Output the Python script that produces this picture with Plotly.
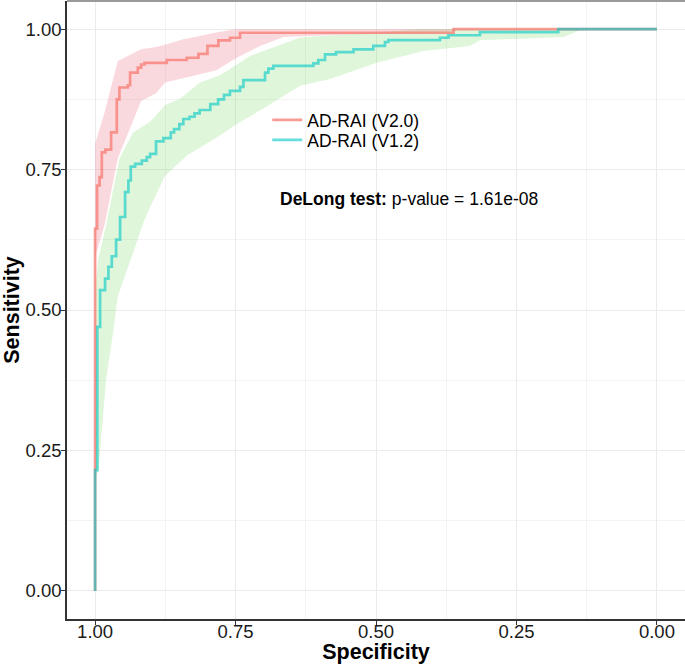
import plotly.graph_objects as go

# ROC step curves (specificity, sensitivity)
v20_spec = [1.0, 1.0, 0.9964, 0.992, 0.988, 0.9816, 0.9715, 0.9614, 0.9567, 0.9418, 0.9377,
            0.924, 0.918, 0.912, 0.8724, 0.8368, 0.816, 0.800, 0.7806, 0.7598, 0.742, 0.362, 0.0]
v20_sens = [0.0, 0.645, 0.7216, 0.7364, 0.7807, 0.7855, 0.816, 0.875, 0.896, 0.900, 0.9225,
            0.9314, 0.937, 0.940, 0.945, 0.949, 0.956, 0.970, 0.980, 0.9846, 0.9935, 1.0, 1.0]

v12_spec = [1.0, 1.0, 0.996, 0.9911, 0.9822, 0.9763, 0.9703, 0.9626, 0.9555, 0.9466, 0.9407,
            0.9365, 0.9288, 0.9169, 0.908, 0.9021, 0.8915, 0.8785, 0.8653, 0.8594, 0.850, 0.843,
            0.832, 0.823, 0.814, 0.795, 0.781, 0.7705, 0.760, 0.742, 0.736, 0.6975, 0.6916,
            0.6827, 0.6116, 0.6027, 0.5907, 0.571, 0.540, 0.5048, 0.484, 0.478, 0.386, 0.371,
            0.315, 0.1756, 0.0]
v12_sens = [0.0, 0.215, 0.470, 0.5355, 0.556, 0.577, 0.5957, 0.6253, 0.6655, 0.7098, 0.7305,
            0.7553, 0.760, 0.766, 0.772, 0.778, 0.800, 0.806, 0.816, 0.822, 0.831, 0.840,
            0.844, 0.850, 0.856, 0.8665, 0.875, 0.883, 0.890, 0.897, 0.909, 0.9225, 0.9297,
            0.9344, 0.939, 0.945, 0.955, 0.959, 0.964, 0.970, 0.977, 0.9805, 0.9846, 0.989,
            0.9947, 1.0, 1.0]

# Confidence bands
v20_ci_spec = [1.0, 0.9835, 0.9596, 0.918, 0.8915, 0.8754, 0.843, 0.837, 0.7895, 0.7835,
               0.748, 0.7064, 0.665, 0.5463, 0.368, 0.35, 0.0]
v20_ci_lo = [0.594, 0.65, 0.77, 0.872, 0.886, 0.905, 0.913, 0.914, 0.9255, 0.927,
             0.949, 0.970, 0.986, 0.9905, 0.9947, 1.0, 1.0]
v20_ci_hi = [0.796, 0.85, 0.943, 0.964, 0.968, 0.972, 0.982, 0.983, 0.993, 0.994,
             1.0, 1.0, 1.0, 1.0, 1.0, 1.0, 1.0]

v12_lo_spec = [1.0, 0.9934, 0.9911, 0.9804, 0.9674, 0.9596, 0.939, 0.9123, 0.9021, 0.8754,
               0.8368, 0.7835, 0.7479, 0.7064, 0.6352, 0.5819, 0.4988, 0.4158, 0.3327, 0.315,
               0.1667, 0.1311, 0.0]
v12_lo = [0.2, 0.216, 0.25, 0.376, 0.4645, 0.524, 0.583, 0.66, 0.683, 0.739,
          0.775, 0.807, 0.831, 0.855, 0.899, 0.911, 0.940, 0.961, 0.970, 0.980,
          0.986, 1.0, 1.0]
v12_hi_spec = [1.0, 0.9947, 0.9804, 0.9568, 0.9324, 0.9021, 0.8754, 0.8488, 0.8132, 0.7776,
               0.7242, 0.6352, 0.4988, 0.4217, 0.0]
v12_hi = [0.53, 0.589, 0.651, 0.769, 0.816, 0.835, 0.865, 0.876, 0.905, 0.918,
          0.952, 0.985, 0.994, 1.0, 1.0]

tick_vals = [0.0, 0.25, 0.5, 0.75, 1.0]
labels = ["AD-RAI (V2.0)", "AD-RAI (V1.2)"]

FONT = "Liberation Sans, Arial, sans-serif"

fig = go.Figure()

# green band (V1.2)
fig.add_trace(go.Scatter(
    x=v12_hi_spec + v12_lo_spec[::-1], y=v12_hi + v12_lo[::-1],
    fill="toself", fillcolor="rgba(110,215,90,0.22)", line=dict(width=0),
    mode="lines", showlegend=False, hoverinfo="skip"))
# pink band (V2.0)
fig.add_trace(go.Scatter(
    x=v20_ci_spec + v20_ci_spec[::-1], y=v20_ci_hi + v20_ci_lo[::-1],
    fill="toself", fillcolor="rgba(235,95,115,0.24)", line=dict(width=0),
    mode="lines", showlegend=False, hoverinfo="skip"))

fig.add_trace(go.Scatter(
    x=v20_spec, y=v20_sens, mode="lines", line_shape="hv", name=labels[0],
    legend="legend",
    line=dict(color="rgba(248,118,109,0.72)", width=2.7)))
fig.add_trace(go.Scatter(
    x=v12_spec, y=v12_sens, mode="lines", line_shape="hv", name=labels[1],
    legend="legend2",
    line=dict(color="rgba(0,200,196,0.6)", width=2.7)))

fig.add_annotation(
    x=0.3414, y=0.68, xref="paper", yref="paper", xanchor="left", yanchor="middle",
    text="<b>DeLong test:</b> p-value = 1.61e-08", showarrow=False,
    font=dict(size=17.5, color="black", family=FONT))

# top border
fig.add_shape(type="line", xref="paper", yref="paper", x0=0, x1=1, y0=1, y1=1,
              line=dict(color="#9a9a9a", width=2))

axis_common = dict(
    showgrid=True, gridcolor="#ebebeb", gridwidth=1.2,
    zeroline=False, showline=True, linecolor="#333333", linewidth=1.5,
    ticks="outside", ticklen=4, tickcolor="#333333", tickwidth=1.2,
    tickformat=".2f", tickvals=tick_vals,
    tickfont=dict(size=18.5, color="#1a1a1a", family=FONT),
    minor=dict(dtick=0.125, tick0=0, showgrid=True, gridcolor="#f3f3f3", gridwidth=1),
)

fig.update_xaxes(range=[1.05, -0.05], ticklabelstandoff=-9, **axis_common,
                 title=dict(text="<b>Specificity</b>", standoff=0,
                            font=dict(size=21.5, color="black", family=FONT)))
fig.update_yaxes(range=[-0.05, 1.05], ticklabelstandoff=-4, **axis_common,
                 title=dict(text="<b>Sensitivity</b>", standoff=2,
                            font=dict(size=21.5, color="black", family=FONT)))

legend_common = dict(xanchor="left", yanchor="top", bgcolor="rgba(0,0,0,0)", borderwidth=0,
                     font=dict(size=17.5, color="black", family=FONT),
                     tracegroupgap=0, itemwidth=30)

fig.update_layout(
    width=685, height=664,
    margin=dict(l=67, r=0, t=1, b=45),
    paper_bgcolor="white", plot_bgcolor="white",
    showlegend=True,
    legend=dict(x=0.324, y=0.8366, **legend_common),
    legend2=dict(x=0.324, y=0.8043, **legend_common),
)

fig.write_html("out.html", config={"displayModeBar": False},
               post_script="document.body.style.margin='0';")
